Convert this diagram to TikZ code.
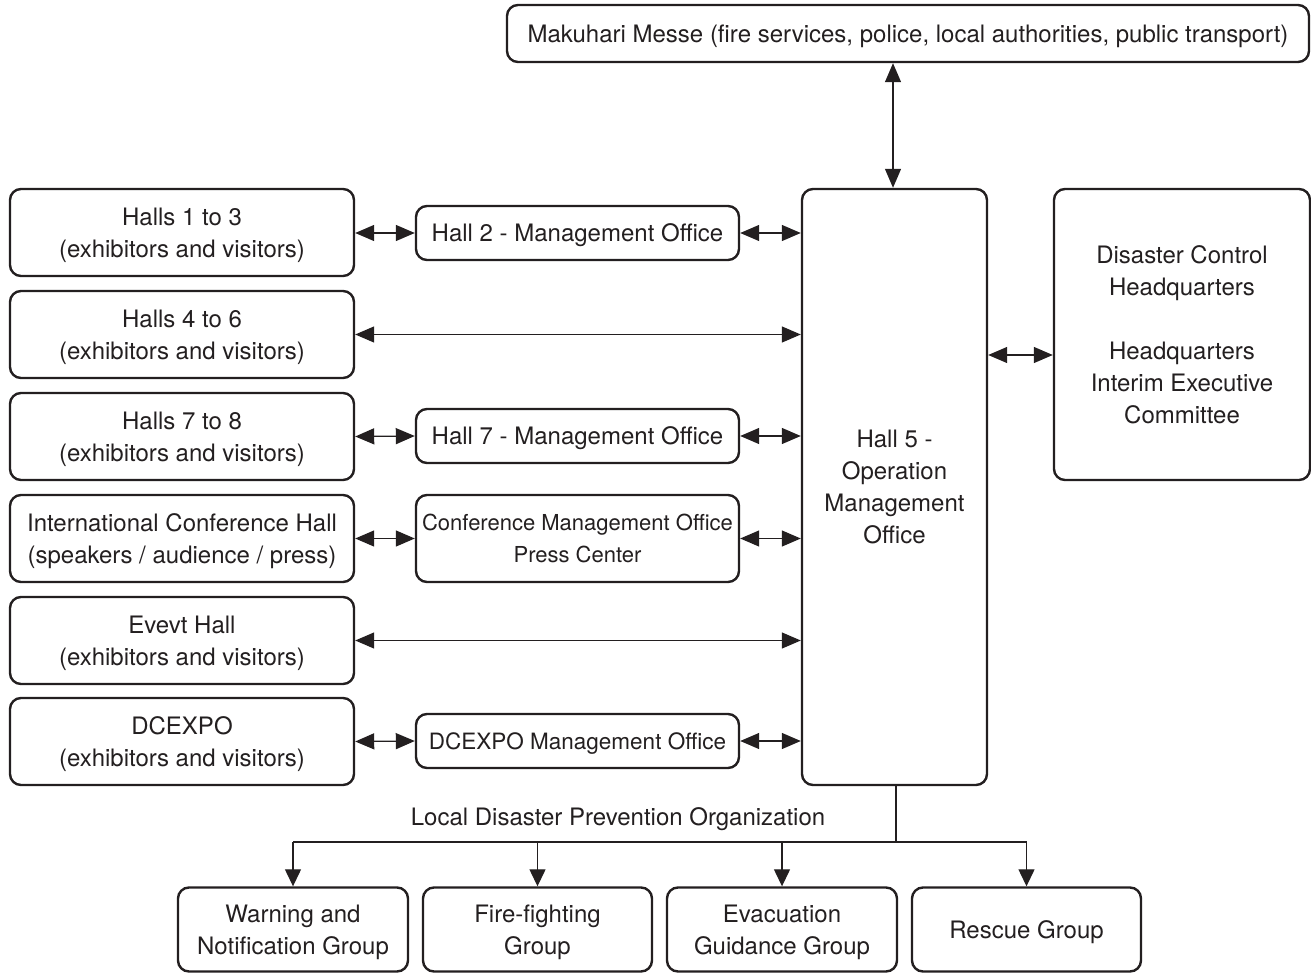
\documentclass[tikz,border=0pt]{standalone}
\usepackage{fontspec}
\setmainfont{TeX Gyre Heros}
\usetikzlibrary{arrows.meta}
\definecolor{ink}{HTML}{231F20}
\begin{document}
\begin{tikzpicture}[x=1pt,y=-1pt,
  box/.style={draw=ink, line width=2.4pt, rounded corners=11pt, align=center, inner sep=0pt,
    text=ink, font=\fontsize{24}{32}\selectfont, text depth=0pt},
  thin/.style={draw=ink, line width=1.3pt},
  biarrow/.style={thin, {Triangle[length=19pt,width=16pt]}-{Triangle[length=19pt,width=16pt]}},
  downarrow/.style={thin, -{Triangle[length=17pt,width=16pt]}},
  lbl/.style={text=ink, font=\fontsize{24}{32}\selectfont, inner sep=0pt}
]
\useasboundingbox (0,0) rectangle (1311,973);
% top
\node[box, minimum width=802pt, minimum height=57pt] (mk) at (908,33.5) {Makuhari Messe (fire services, police, local authorities, public transport)};
% left column
\node[box, minimum width=344pt, minimum height=87pt] (h1) at (182,232.5) {Halls 1 to 3\\(exhibitors and visitors)};
\node[box, minimum width=344pt, minimum height=87pt] (h4) at (182,334.5) {Halls 4 to 6\\(exhibitors and visitors)};
\node[box, minimum width=344pt, minimum height=87pt] (h7) at (182,436.5) {Halls 7 to 8\\(exhibitors and visitors)};
\node[box, minimum width=344pt, minimum height=87pt] (ic) at (182,538.5) {International Conference Hall\\(speakers / audience / press)};
\node[box, minimum width=344pt, minimum height=87pt] (ev) at (182,640.5) {Evevt Hall\\(exhibitors and visitors)};
\node[box, minimum width=344pt, minimum height=87pt] (dc) at (182,741.5) {DCEXPO\\(exhibitors and visitors)};
% middle column
\node[box, minimum width=323pt, minimum height=54pt] (m2) at (577.5,233) {Hall 2 - Management Office};
\node[box, minimum width=323pt, minimum height=54pt] (m7) at (577.5,436) {Hall 7 - Management Office};
\node[box, minimum width=323pt, minimum height=87pt, font=\fontsize{22}{32}\selectfont] (mc) at (577.5,538.5) {Conference Management Office\\Press Center};
\node[box, minimum width=323pt, minimum height=54pt, font=\fontsize{22.5}{32}\selectfont] (md) at (577.5,741) {DCEXPO Management Office};
% central
\node[box, minimum width=185pt, minimum height=596pt] (h5) at (894.5,487) {Hall 5 -\\Operation\\Management\\Office};
% right
\node[box, minimum width=256pt, minimum height=291pt] (dh) at (1182,334.5) {Disaster Control\\Headquarters\\[32pt]Headquarters\\Interim Executive\\Committee};
% bottom groups
\node[box, minimum width=230pt, minimum height=84pt] (g1) at (293,929.5) {Warning and\\Notification Group};
\node[box, minimum width=229pt, minimum height=84pt] (g2) at (537.5,929.5) {Fire-fighting\\Group};
\node[box, minimum width=230pt, minimum height=84pt] (g3) at (782,929.5) {Evacuation\\Guidance Group};
\node[box, minimum width=229pt, minimum height=84pt] (g4) at (1026.5,929.5) {Rescue Group};
% label
\node[lbl] (lo) at (618,819) {Local Disaster Prevention Organization};
\coordinate (j) at (896,842);
% connectors
\draw[biarrow] (h5.north -| 893,0) -- (mk.south -| 893,0);
\draw[biarrow] (h1.east |- m2.west) -- (m2.west);
\draw[biarrow] (m2.east) -- (m2.east -| h5.west);
\draw[biarrow] (h4.east) -- (h4.east -| h5.west);
\draw[biarrow] (h7.east) -- (m7.west);
\draw[biarrow] (m7.east) -- (m7.east -| h5.west);
\draw[biarrow] (ic.east) -- (mc.west);
\draw[biarrow] (mc.east) -- (mc.east -| h5.west);
\draw[biarrow] (ev.east) -- (ev.east -| h5.west);
\draw[biarrow] (dc.east) -- (md.west);
\draw[biarrow] (md.east) -- (md.east -| h5.west);
\draw[biarrow] (h5.east |- 0,355) -- (dh.west |- 0,355);
\draw[thin] (h5.south -| j) -- (j);
\draw[thin] (g1.north |- j) -- (g4.north |- j);
\draw[downarrow] (g1.north |- j) -- (g1.north);
\draw[downarrow] (g2.north |- j) -- (g2.north);
\draw[downarrow] (g3.north |- j) -- (g3.north);
\draw[downarrow] (g4.north |- j) -- (g4.north);
\end{tikzpicture}
\end{document}
